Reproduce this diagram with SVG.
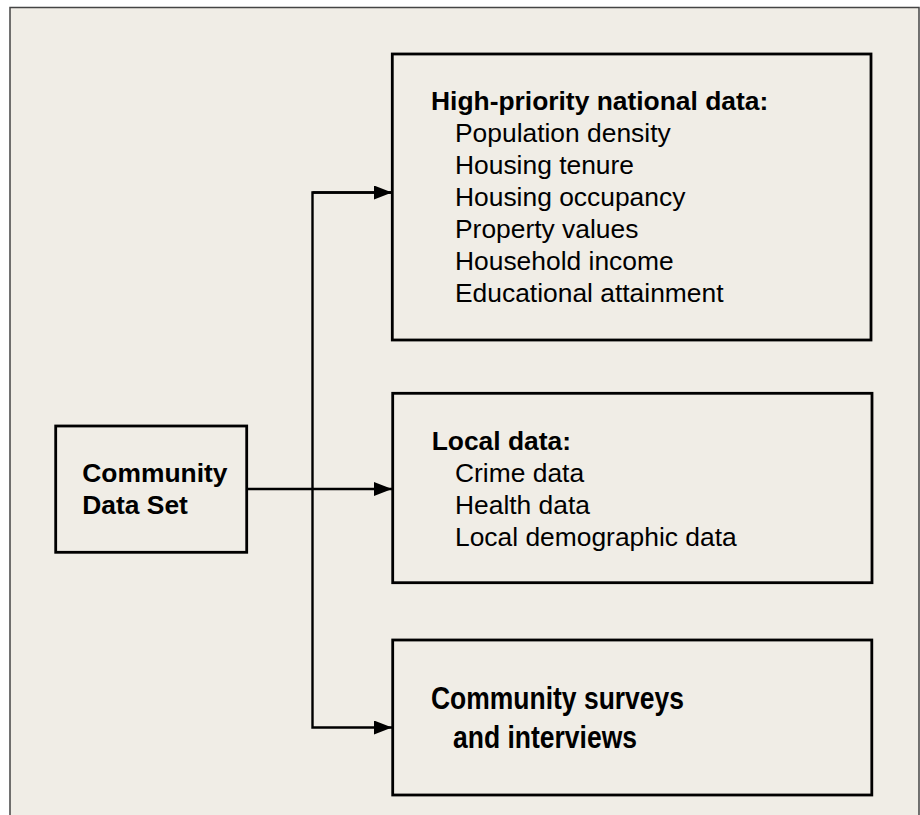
<svg xmlns="http://www.w3.org/2000/svg" width="920" height="815" viewBox="0 0 920 815">
<defs>
<style>
.box{fill:none;stroke:#000;stroke-width:2.8}
.t{font-family:"Liberation Sans",Arial,sans-serif;font-size:26.4px;fill:#000}
.b{font-weight:bold}
.c{fill:none;stroke:#000;stroke-width:2.4}
</style>
<marker id="arr" markerUnits="userSpaceOnUse" markerWidth="18" markerHeight="14" refX="18" refY="7" orient="auto">
<path d="M0,0 L18,7 L0,14 Z" fill="#000"/>
</marker>
</defs>
<rect x="0" y="0" width="920" height="815" fill="#fff"/>
<rect x="10" y="7.5" width="909" height="820" fill="#F0EDE6" stroke="#444" stroke-width="1.5"/>
<g id="connectors">
<polyline class="c" points="392,192.5 312.5,192.5 312.5,727.5 392,727.5" marker-end="url(#arr)"/>
<line class="c" x1="312.5" y1="192.5" x2="392" y2="192.5" marker-end="url(#arr)"/>
<line class="c" x1="247" y1="489" x2="392" y2="489" marker-end="url(#arr)"/>
</g>
<g id="community">
<rect class="box" x="55.7" y="426" width="191" height="126.3"/>
<text class="t b" x="82.3" y="481.7">Community</text>
<text class="t b" x="82.3" y="514">Data Set</text>
</g>
<g id="national">
<rect class="box" x="392.3" y="54" width="478.7" height="286"/>
<text class="t b" x="431" y="110">High-priority national data:</text>
<text class="t" x="455" y="142">Population density</text>
<text class="t" x="455" y="174">Housing tenure</text>
<text class="t" x="455" y="206">Housing occupancy</text>
<text class="t" x="455" y="238">Property values</text>
<text class="t" x="455" y="270">Household income</text>
<text class="t" x="455" y="302">Educational attainment</text>
</g>
<g id="local">
<rect class="box" x="392.7" y="393.3" width="479.3" height="189.4"/>
<text class="t b" x="431.7" y="450">Local data:</text>
<text class="t" x="455" y="481.5">Crime data</text>
<text class="t" x="455" y="513.5">Health data</text>
<text class="t" x="455" y="545.5">Local demographic data</text>
</g>
<g id="surveys">
<rect class="box" x="392.7" y="640" width="479.1" height="155"/>
<text class="t b" x="431" y="709.4" style="font-size:32px" textLength="253" lengthAdjust="spacingAndGlyphs">Community surveys</text>
<text class="t b" x="453" y="747.8" style="font-size:32px" textLength="184" lengthAdjust="spacingAndGlyphs">and interviews</text>
</g>
</svg>
